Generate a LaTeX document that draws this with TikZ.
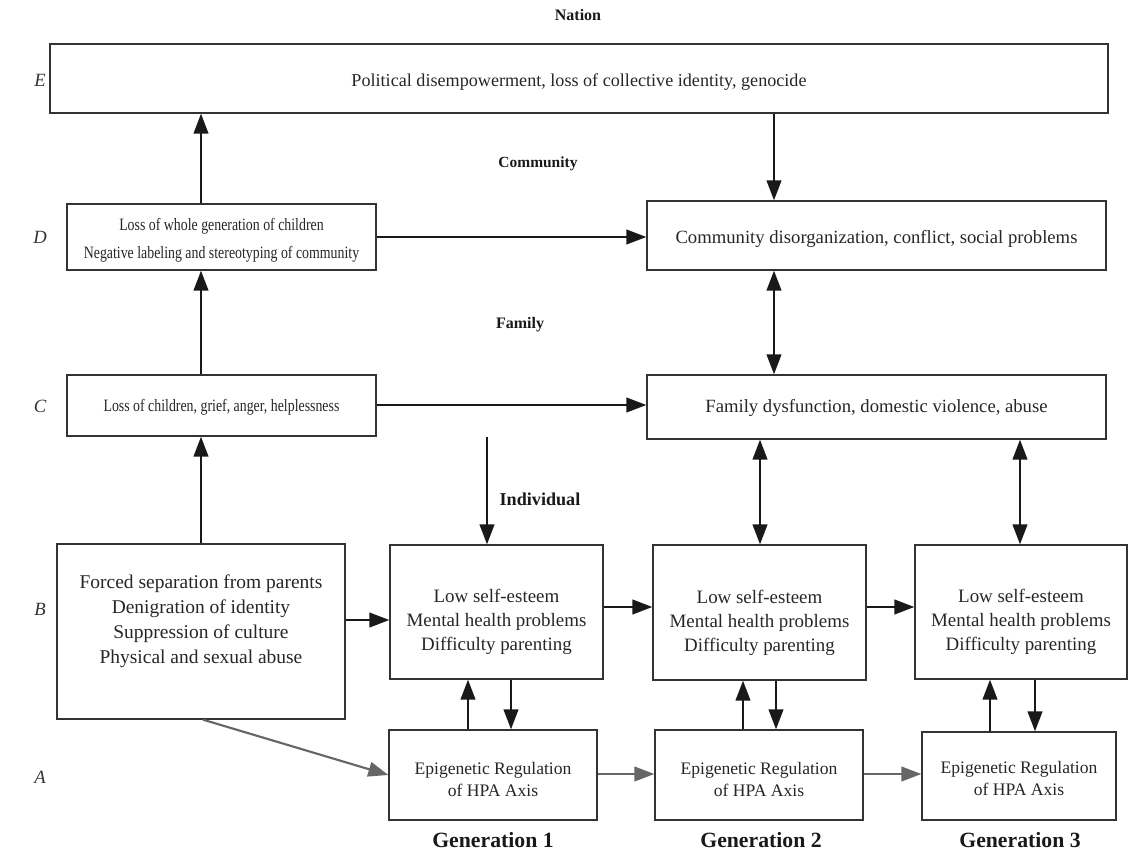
\documentclass[tikz,border=0pt]{standalone}
\usepackage{fontspec}
\setmainfont{Liberation Serif}
\newfontfamily\narrowserif[FakeStretch=0.8]{Liberation Serif}
\usetikzlibrary{arrows.meta}
\begin{document}
\begin{tikzpicture}[x=0.75pt,y=-0.75pt,
  box/.style={draw=black!80,line width=1pt,inner sep=0pt},
  txt/.style={inner sep=0pt,align=center,text=black!85},
  big/.style={font=\fontsize{14}{18}\selectfont},
  narrow/.style={font=\narrowserif\fontsize{13}{21}\selectfont},
  indiv/.style={font=\fontsize{14.2}{18}\selectfont},
  epi/.style={font=\fontsize{13.2}{16.5}\selectfont},
  tip/.style={-{Triangle[length=15pt,width=11pt]}},
  arr/.style={line width=1.6pt,black!90,tip},
  dbl/.style={line width=1.6pt,black!90,{Triangle[length=15pt,width=11pt]}-{Triangle[length=15pt,width=11pt]}},
  garr/.style={line width=1.6pt,black!60,tip},
  head/.style={text=black!90},
  lvl/.style={font=\fontsize{14}{16}\selectfont\itshape,text=black!80}]
\useasboundingbox (0,0) rectangle (1129,853);

% ---- boxes ----
% level E: nation
\node[box,minimum width=793.5pt,minimum height=51.75pt] (e) at (579,78.5) {};
% level D: community
\node[box,minimum width=231.75pt,minimum height=49.5pt] (d1) at (221.5,237) {};
\node[box,minimum width=344.25pt,minimum height=51.75pt] (d2) at (876.5,235.5) {};
% level C: family
\node[box,minimum width=231.75pt,minimum height=45.75pt] (c1) at (221.5,405.5) {};
\node[box,minimum width=344.25pt,minimum height=48pt] (c2) at (876.5,407) {};
% level B: individual
\node[box,minimum width=216pt,minimum height=131.25pt] (b0) at (201,631.5) {};
\node[box,minimum width=159.75pt,minimum height=100.5pt] (b1) at (496.5,612) {};
\node[box,minimum width=159.75pt,minimum height=101.25pt] (b2) at (759.5,612.5) {};
\node[box,minimum width=159pt,minimum height=100.5pt] (b3) at (1021,612) {};
% level A: epigenetic regulation
\node[box,minimum width=156pt,minimum height=67.5pt] (a1) at (493,775) {};
\node[box,minimum width=156pt,minimum height=67.5pt] (a2) at (759,775) {};
\node[box,minimum width=145.5pt,minimum height=66pt] (a3) at (1019,776) {};

% ---- box texts ----
\node[txt,font=\fontsize{13.6}{18}\selectfont] (et) at ([yshift=-2.5pt]e.center)
  {Political disempowerment, loss of collective identity, genocide};
\node[txt,narrow] (d1t) at ([yshift=-2.3pt]d1.center)
  {Loss of whole generation of children\\Negative labeling and stereotyping of community};
\node[txt,big] (d2t) at ([yshift=-2.3pt]d2.center) {Community disorganization, conflict, social problems};
\node[txt,narrow] (c1t) at ([yshift=-1pt]c1.center) {Loss of children, grief, anger, helplessness};
\node[txt,big] (c2t) at ([yshift=-1pt]c2.center) {Family dysfunction, domestic violence, abuse};
\node[txt,font=\fontsize{14.6}{18.75}\selectfont] (b0t) at ([yshift=7.5pt]b0.center)
  {Forced separation from parents\\Denigration of identity\\Suppression of culture\\Physical and sexual abuse};
\node[txt,indiv] (b1t) at ([yshift=-7.5pt]b1.center) {Low self-esteem\\Mental health problems\\Difficulty parenting};
\node[txt,indiv] (b2t) at ([yshift=-7.5pt]b2.center) {Low self-esteem\\Mental health problems\\Difficulty parenting};
\node[txt,indiv] (b3t) at ([yshift=-7.5pt]b3.center) {Low self-esteem\\Mental health problems\\Difficulty parenting};
\node[txt,epi] (a1t) at ([yshift=-3pt]a1.center) {Epigenetic Regulation\\of HPA Axis};
\node[txt,epi] (a2t) at ([yshift=-3pt]a2.center) {Epigenetic Regulation\\of HPA Axis};
\node[txt,epi] (a3t) at ([yshift=-2pt]a3.center) {Epigenetic Regulation\\of HPA Axis};

% ---- headings ----
\node[head,font=\fontsize{12}{14}\selectfont\bfseries] (hn) at (578,15) {Nation};
\node[head,font=\fontsize{11.6}{14}\selectfont\bfseries] (hc) at (538,164) {Community};
\node[head,font=\fontsize{12}{14}\selectfont\bfseries] (hf) at (520,325) {Family};
\node[head,font=\fontsize{13.6}{16}\selectfont\bfseries] (hi) at (540,499) {Individual};
\node[head,font=\fontsize{16.3}{18}\selectfont\bfseries] (g1) at (493,840) {Generation 1};
\node[head,font=\fontsize{16.3}{18}\selectfont\bfseries] (g2) at (761,840) {Generation 2};
\node[head,font=\fontsize{16.3}{18}\selectfont\bfseries] (g3) at (1020,840) {Generation 3};

% ---- level letters ----
\node[lvl] (le) at (40,80) {E};
\node[lvl] (ld) at (40,237) {D};
\node[lvl] (lc) at (40,406) {C};
\node[lvl] (lb) at (40,609) {B};
\node[lvl] (la) at (40,777) {A};

% guide coordinates for connector positions
\coordinate (xl) at (201,0);
\coordinate (xr) at (774,0);
\coordinate (x1) at (487,0);
\coordinate (x2) at (760,0);
\coordinate (x3) at (1020,0);
\coordinate (u1) at (468,0);
\coordinate (v1) at (511,0);
\coordinate (u2) at (743,0);
\coordinate (v2) at (776,0);
\coordinate (u3) at (990,0);
\coordinate (v3) at (1035,0);
\coordinate (yd) at (0,237);
\coordinate (yc) at (0,405);
\coordinate (yb0) at (0,620);
\coordinate (yb) at (0,607);
\coordinate (ya) at (0,774);
\coordinate (xs) at (203,0);

% upward chain on the left
\draw[arr] (xl |- d1.north) -- (xl |- e.south);
\draw[arr] (xl |- c1.north) -- (xl |- d1.south);
\draw[arr] (xl |- b0.north) -- (xl |- c1.south);
% right column
\draw[arr] (xr |- e.south) -- (xr |- d2.north);
\draw[dbl] (xr |- d2.south) -- (xr |- c2.north);
\draw[arr] (d1.east |- yd) -- (d2.west |- yd);
\draw[arr] (c1.east |- yc) -- (c2.west |- yc);
% family to individuals
\draw[arr] (x1 |- c1.south) -- (x1 |- b1.north);
\draw[dbl] (x2 |- c2.south) -- (x2 |- b2.north);
\draw[dbl] (x3 |- c2.south) -- (x3 |- b3.north);
% across generations
\draw[arr] (b0.east |- yb0) -- (b1.west |- yb0);
\draw[arr] (b1.east |- yb) -- (b2.west |- yb);
\draw[arr] (b2.east |- yb) -- (b3.west |- yb);
% individual <-> epigenetic
\draw[arr] (u1 |- a1.north) -- (u1 |- b1.south);
\draw[arr] (v1 |- b1.south) -- (v1 |- a1.north);
\draw[arr] (u2 |- a2.north) -- (u2 |- b2.south);
\draw[arr] (v2 |- b2.south) -- (v2 |- a2.north);
\draw[arr] (u3 |- a3.north) -- (u3 |- b3.south);
\draw[arr] (v3 |- b3.south) -- (v3 |- a3.north);
% epigenetic transmission
\draw[garr] (xs |- b0.south) -- (a1.west);
\draw[garr] (a1.east |- ya) -- (a2.west |- ya);
\draw[garr] (a2.east |- ya) -- (a3.west |- ya);
\end{tikzpicture}
\end{document}
